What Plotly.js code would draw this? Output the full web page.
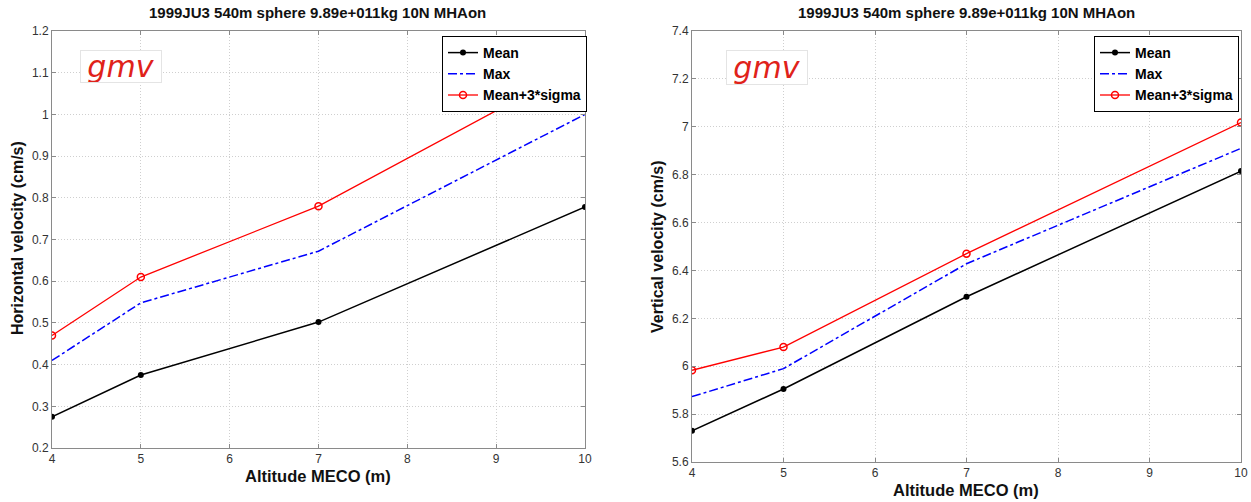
<!DOCTYPE html>
<html>
<head>
<meta charset="utf-8">
<script src="https://cdn.plot.ly/plotly-3.0.1.min.js"></script>
<style>html,body{margin:0;padding:0;background:#fff;}#chart{width:1251px;height:502px;}</style>
</head>
<body>
<div id="chart"></div>
<script>
// Data
const altitude = [4, 5, 7, 10];
const seriesNames = ['Mean', 'Max', 'Mean+3*sigma'];
// Left panel: horizontal velocity (cm/s)
const hMean = [0.275, 0.375, 0.502, 0.778];
const hMax = [0.41, 0.548, 0.672, 1.0];
const hSigma = [0.47, 0.61, 0.78, 1.123];
// Right panel: vertical velocity (cm/s)
const vMean = [5.73, 5.905, 6.29, 6.815];
const vMax = [5.873, 5.99, 6.428, 6.91];
const vSigma = [5.983, 6.08, 6.47, 7.018];
// Tick labels
const xTicks = [4, 5, 6, 7, 8, 9, 10];
const hTicks = [0.2, 0.3, 0.4, 0.5, 0.6, 0.7, 0.8, 0.9, 1.0, 1.1, 1.2];
const hTickText = ['0.2','0.3','0.4','0.5','0.6','0.7','0.8','0.9','1','1.1','1.2'];
const vTicks = [5.6, 5.8, 6.0, 6.2, 6.4, 6.6, 6.8, 7.0, 7.2, 7.4];
const vTickText = ['5.6','5.8','6','6.2','6.4','6.6','6.8','7','7.2','7.4'];
const chartTitle = '1999JU3 540m sphere 9.89e+011kg 10N MHAon';

function mk(y, idx, xa, ya, leg) {
  const styles = [
    {line: {color: '#000000', width: 1.5}, marker: {symbol: 'circle', size: 6, color: '#000000'}, mode: 'lines+markers'},
    {line: {color: '#0000ff', width: 1.5, dash: 'dashdot'}, mode: 'lines'},
    {line: {color: '#ff0000', width: 1.3}, marker: {symbol: 'circle-open', size: 7, color: '#ff0000', line: {width: 1.5}}, mode: 'lines+markers'}
  ];
  return Object.assign({x: altitude, y: y, name: seriesNames[idx], xaxis: xa, yaxis: ya, legend: leg, type: 'scatter'}, styles[idx]);
}

const data = [
  mk(hMean, 0, 'x', 'y', 'legend'), mk(hMax, 1, 'x', 'y', 'legend'), mk(hSigma, 2, 'x', 'y', 'legend'),
  mk(vMean, 0, 'x2', 'y2', 'legend2'), mk(vMax, 1, 'x2', 'y2', 'legend2'), mk(vSigma, 2, 'x2', 'y2', 'legend2')
];

const FONT = 'Liberation Sans, Arial, sans-serif';
const tickFont = {family: FONT, size: 12, color: '#333'};
const axBase = {
  showline: true, linecolor: '#8a8a8a', linewidth: 1, mirror: 'allticks',
  ticks: 'inside', ticklen: 4, tickcolor: '#8a8a8a',
  showgrid: true, gridcolor: '#cfcfcf', griddash: '1px,2px', gridwidth: 1,
  zeroline: false, tickfont: tickFont, fixedrange: true
};
const W = 1251, H = 502;
const legFont = {family: FONT, size: 14, color: '#000', weight: 'bold'};
const layout = {
  width: W, height: H,
  margin: {l: 0, r: 0, t: 0, b: 0},
  paper_bgcolor: '#fff', plot_bgcolor: '#fff',
  showlegend: true,
  xaxis: Object.assign({}, axBase, {domain: [52/W, 585/W], range: [4, 10], tickvals: xTicks, anchor: 'y'}),
  yaxis: Object.assign({}, axBase, {domain: [1-448/H, 1-31/H], range: [0.2, 1.2], tickvals: hTicks, ticktext: hTickText, anchor: 'x'}),
  xaxis2: Object.assign({}, axBase, {domain: [692/W, 1241/W], range: [4, 10], tickvals: xTicks, anchor: 'y2'}),
  yaxis2: Object.assign({}, axBase, {domain: [1-462/H, 1-31/H], range: [5.6, 7.4], tickvals: vTicks, ticktext: vTickText, anchor: 'x2'}),
  legend: {x: 587/W, y: 1-36/H, xanchor: 'right', yanchor: 'top', bordercolor: '#000', borderwidth: 1, bgcolor: '#fff',
           font: legFont, tracegroupgap: 0, itemwidth: 30},
  legend2: {x: 1239/W, y: 1-36/H, xanchor: 'right', yanchor: 'top', bordercolor: '#000', borderwidth: 1, bgcolor: '#fff',
           font: legFont, tracegroupgap: 0, itemwidth: 30},
  annotations: [
    {text: '<b>' + chartTitle + '</b>', xref: 'paper', yref: 'paper', x: 318/W, y: 1-13/H, showarrow: false, xanchor: 'center', yanchor: 'middle',
     font: {family: FONT, size: 15, color: '#111'}},
    {text: '<b>' + chartTitle + '</b>', xref: 'paper', yref: 'paper', x: 966/W, y: 1-13/H, showarrow: false, xanchor: 'center', yanchor: 'middle',
     font: {family: FONT, size: 15, color: '#111'}},
    {text: '<b>Altitude MECO (m)</b>', xref: 'paper', yref: 'paper', x: 318/W, y: 1-476/H, showarrow: false, xanchor: 'center', yanchor: 'middle',
     font: {family: FONT, size: 16.5, color: '#111'}},
    {text: '<b>Altitude MECO (m)</b>', xref: 'paper', yref: 'paper', x: 966/W, y: 1-490/H, showarrow: false, xanchor: 'center', yanchor: 'middle',
     font: {family: FONT, size: 16.5, color: '#111'}},
    {text: '<b>Horizontal velocity (cm/s)</b>', xref: 'paper', yref: 'paper', x: 17/W, y: 1-238/H, showarrow: false, textangle: -90, xanchor: 'center', yanchor: 'middle',
     font: {family: FONT, size: 16, color: '#111'}},
    {text: '<b>Vertical velocity (cm/s)</b>', xref: 'paper', yref: 'paper', x: 657/W, y: 1-246/H, showarrow: false, textangle: -90, xanchor: 'center', yanchor: 'middle',
     font: {family: FONT, size: 16, color: '#111'}},
    {text: '<i>gmv</i>', xref: 'paper', yref: 'paper', x: 121/W, y: 1-66/H, showarrow: false, xanchor: 'center', yanchor: 'middle',
     width: 80, height: 31, bordercolor: '#e4e4e4', borderwidth: 1, borderpad: 0, bgcolor: '#fff',
     font: {family: 'DejaVu Sans, sans-serif', size: 30, color: '#e0221a'}},
    {text: '<i>gmv</i>', xref: 'paper', yref: 'paper', x: 767/W, y: 1-67/H, showarrow: false, xanchor: 'center', yanchor: 'middle',
     width: 80, height: 33, bordercolor: '#e4e4e4', borderwidth: 1, borderpad: 0, bgcolor: '#fff',
     font: {family: 'DejaVu Sans, sans-serif', size: 30, color: '#e0221a'}}
  ]
};
Plotly.newPlot('chart', data, layout, {staticPlot: true, displayModeBar: false});
</script>
</body>
</html>
